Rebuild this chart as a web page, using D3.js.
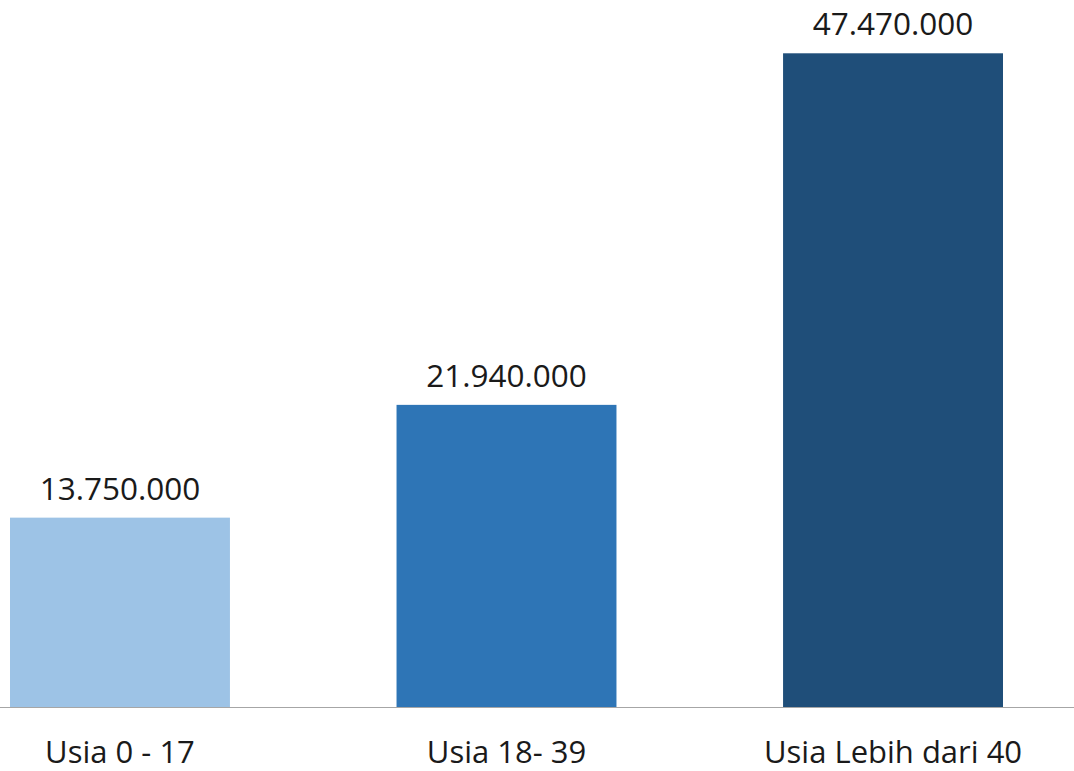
<!DOCTYPE html>
<html>
<head>
<meta charset="utf-8">
<script src="https://cdn.jsdelivr.net/npm/d3@7"></script>
<style>
  body { margin: 0; background: #fff; }
  svg { display: block; }
</style>
</head>
<body>
<div id="chart"></div>
<script>
const categories = ['Usia 0 - 17', 'Usia 18- 39', 'Usia Lebih dari 40'];
const values = [13750000, 21940000, 47470000];
const colors = ['#9dc3e6', '#2e75b6', '#1f4e79'];

const W = 1074, H = 771;
const baseY = 707;

const svg = d3.select('#chart')
  .append('svg')
  .attr('width', W)
  .attr('height', H);

const x = d3.scaleBand()
  .domain(categories)
  .range([10, 1003])
  .paddingInner(0.431)
  .paddingOuter(0);

const y = d3.scaleLinear()
  .domain([0, 51340000])
  .range([baseY, 0]);

const data = categories.map((c, i) => ({ cat: c, value: values[i], color: colors[i] }));

// Bars
svg.selectAll('rect.bar')
  .data(data).enter()
  .append('rect')
  .attr('class', 'bar')
  .attr('x', d => x(d.cat))
  .attr('y', d => y(d.value))
  .attr('width', x.bandwidth())
  .attr('height', d => baseY - y(d.value))
  .attr('fill', d => d.color);

// Baseline
svg.append('line')
  .attr('x1', 0).attr('x2', W)
  .attr('y1', baseY + 0.5).attr('y2', baseY + 0.5)
  .attr('stroke', '#a6a6a6')
  .attr('stroke-width', 1);

// Value labels
const fmt = v => d3.format(',')(v).replace(/,/g, '.');
svg.selectAll('text.val')
  .data(data).enter()
  .append('text')
  .attr('class', 'val')
  .attr('x', d => x(d.cat) + x.bandwidth() / 2)
  .attr('y', d => y(d.value) - 18)
  .attr('text-anchor', 'middle')
  .attr('fill', '#1a1a1a')
  .style('font-family', '"Open Sans", sans-serif')
  .style('font-size', '31.5px')
  .text(d => fmt(d.value));

// Category labels
svg.selectAll('text.cat')
  .data(data).enter()
  .append('text')
  .attr('class', 'cat')
  .attr('x', d => x(d.cat) + x.bandwidth() / 2)
  .attr('y', 763)
  .attr('text-anchor', 'middle')
  .attr('fill', '#1a1a1a')
  .style('font-family', '"Open Sans", sans-serif')
  .style('font-size', '31px')
  .text(d => d.cat);
</script>
</body>
</html>
